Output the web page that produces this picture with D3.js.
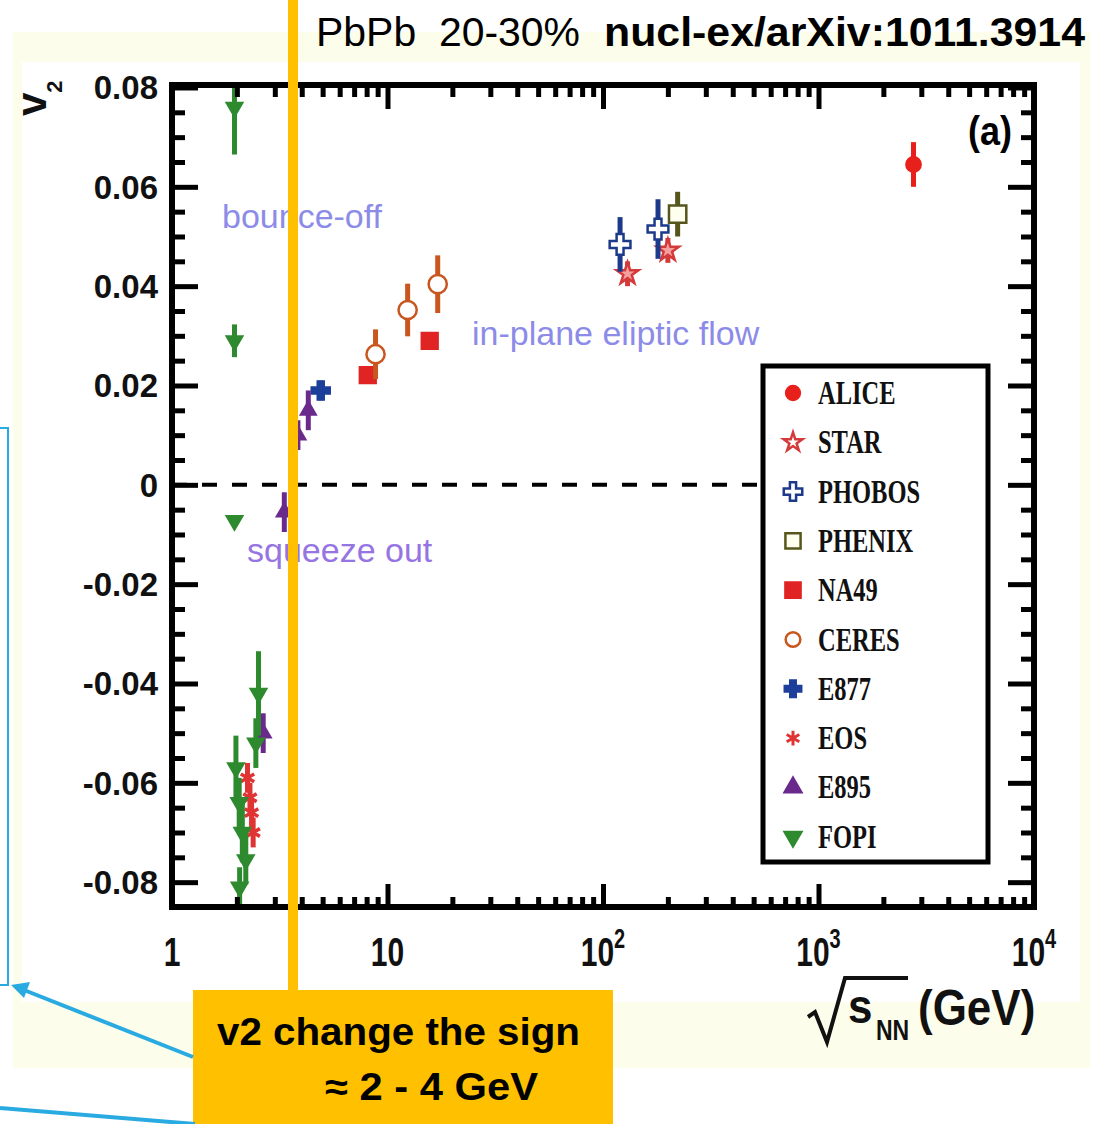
<!DOCTYPE html>
<html>
<head>
<meta charset="utf-8">
<script src="https://cdn.jsdelivr.net/npm/d3@7"></script>
<style>
  body { margin: 0; background: #fff; }
  svg { display: block; }
</style>
</head>
<body>
<svg id="chart" width="1117" height="1124"></svg>
<script>
// v2 vs sqrt(sNN): each point is [sqrt(sNN) GeV, v2, error]
const alice  = [[2760, 0.0645, 0.0045]];
const star   = [[130, 0.0425, 0.0025], [200, 0.0472, 0.0025]];
const phobos = [[120, 0.0484, 0.0055], [180, 0.0515, 0.006]];
const phenix = [[222, 0.0545, 0.0045]];
const na49   = [[8.1, 0.0221, 0.001], [15.7, 0.029, 0.001]];
const ceres  = [[8.8, 0.0263, 0.005], [12.4, 0.0352, 0.0053], [17.1, 0.0404, 0.0058]];
const e877   = [[4.9, 0.019, 0.002]];
const eos    = [[2.24, -0.059, 0.003], [2.3, -0.063, 0.003], [2.34, -0.066, 0.003], [2.38, -0.07, 0.003]];
const e895   = [[2.65, -0.05, 0.004], [3.32, -0.0055, 0.004], [3.84, 0.01, 0.003], [4.29, 0.015, 0.004]];
const fopi   = [[1.95, 0.076, 0.0095], [1.95, 0.029, 0.0033], [1.95, -0.0072, 0.001],
                [1.98, -0.057, 0.0065], [2.05, -0.064, 0.005], [2.12, -0.07, 0.006],
                [2.2, -0.0755, 0.005], [2.06, -0.081, 0.004], [2.45, -0.052, 0.005], [2.52, -0.042, 0.0085]];

const xMajor = [1, 10, 100, 1000, 10000];
const xLabels = [["1", ""], ["10", ""], ["10", "2"], ["10", "3"], ["10", "4"]];
const yMajor = [-0.08, -0.06, -0.04, -0.02, 0, 0.02, 0.04, 0.06, 0.08];
const yLabels = ["-0.08", "-0.06", "-0.04", "-0.02", "0", "0.02", "0.04", "0.06", "0.08"];

const svg = d3.select("#chart");

// echelles
const x = d3.scaleLog().domain([1, 1e4]).range([172, 1034]);
const y = d3.scaleLinear().domain([-0.085, 0.0805]).range([907, 85]);

// fond
svg.append("rect").attr("x", 13).attr("y", 32).attr("width", 1077).attr("height", 1036).attr("fill", "#fdfdec");
svg.append("rect").attr("x", 22).attr("y", 62).attr("width", 1058).attr("height", 940).attr("fill", "#fff");

// textes dans le graphe
const note = (t, px, py, col) => svg.append("text").attr("x", px).attr("y", py)
  .attr("font-family", "Liberation Sans, Arial, sans-serif").attr("font-size", 34)
  .attr("fill", col).text(t);
note("bounce-off", 222, 228, "#8c8ce8");
note("in-plane eliptic flow", 472, 345, "#8c8ce8");
note("squeeze out", 247, 562, "#9674e2");

svg.append("text").attr("x", 968).attr("y", 145).attr("font-family", "Liberation Sans, Arial, sans-serif")
  .attr("font-size", 36).attr("font-weight", "bold").attr("transform", "translate(0,-22) scale(1,1.15)")
  .text("(a)");

// ligne v2 = 0
svg.append("path")
  .attr("d", d3.line().x(d => x(d)).y(() => y(0))([1, 530]))
  .attr("stroke", "#000").attr("stroke-width", 4).attr("stroke-dasharray", "15 15").attr("fill", "none");

// series
const series = [
  { name: "ALICE",  data: alice,  sym: d3.symbolCircle,   size: 160, color: "#e8201c", fill: "#e8201c", lsize: 150 },
  { name: "STAR",   data: star,   sym: d3.symbolStar,     size: 150, color: "#d43a3a", fill: "#f4a0a0", lsize: 110, lfill: "#fff" },
  { name: "PHOBOS", data: phobos, sym: d3.symbolCross,    size: 240, color: "#1d3a8a", fill: "#fff", lsize: 190 },
  { name: "PHENIX", data: phenix, sym: d3.symbolSquare,   size: 300, color: "#56561c", fill: "#fffff0", lsize: 230 },
  { name: "NA49",   data: na49,   sym: d3.symbolSquare,   size: 250, color: "#e02424", fill: "#e02424", lsize: 230 },
  { name: "CERES",  data: ceres,  sym: d3.symbolCircle,   size: 260, color: "#c8561e", fill: "#fff", lsize: 170 },
  { name: "E877",   data: e877,   sym: d3.symbolCross,    size: 180, color: "#1c3f9a", fill: "#1c3f9a", lsize: 150 },
  { name: "EOS",    data: eos,    sym: d3.symbolAsterisk, size: 170, color: "#e03434", fill: "none", lsize: 150 },
  { name: "E895",   data: e895,   sym: d3.symbolTriangle, size: 90,  color: "#6a2a8c", fill: "#6a2a8c", lsize: 120 },
  { name: "FOPI",   data: fopi,   sym: d3.symbolTriangle, size: 100, color: "#2e8a2e", fill: "#2e8a2e", lsize: 120, down: true }
];

const plot = svg.append("g");
series.forEach(s => {
  const g = plot.append("g");
  g.selectAll("line").data(s.data).enter().append("line")
    .attr("x1", d => x(d[0])).attr("x2", d => x(d[0]))
    .attr("y1", d => Math.max(y(d[1] + d[2]), 85)).attr("y2", d => Math.min(y(d[1] - d[2]), 907))
    .attr("stroke", s.color).attr("stroke-width", 5);
  g.selectAll("path").data(s.data).enter().append("path")
    .attr("d", d3.symbol(s.sym, s.size))
    .attr("transform", d => `translate(${x(d[0])},${y(d[1])})` + (s.down ? " rotate(180)" : ""))
    .attr("fill", s.fill).attr("stroke", s.color)
    .attr("stroke-width", s.sym === d3.symbolAsterisk ? 3.5 : 2.5);
});

// axes : graduations vers l'interieur
const xMinor = [];
for (let dec = 1; dec < 1e4; dec *= 10) for (let k = 2; k <= 9; k++) xMinor.push(dec * k);
const yMinor = d3.range(-0.085, 0.0801, 0.005).map(v => +v.toFixed(3)).filter(v => !yMajor.includes(v));

const axes = svg.append("g");
const tickAxis = (axis, vals, len, tr) => {
  const a = axes.append("g").attr("transform", tr)
    .call(axis.tickValues(vals).tickSize(len).tickFormat(""));
  a.select(".domain").remove();
  a.selectAll(".tick line").attr("stroke", "#000").attr("stroke-width", 5);
};
tickAxis(d3.axisBottom(x), xMajor, -23, "translate(0,907)");
tickAxis(d3.axisBottom(x), xMinor, -10, "translate(0,907)");
tickAxis(d3.axisTop(x), xMajor, -24, "translate(0,85)");
tickAxis(d3.axisTop(x), xMinor, -12, "translate(0,85)");
tickAxis(d3.axisLeft(y), yMajor, -26, "translate(172,0)");
tickAxis(d3.axisLeft(y), yMinor, -13, "translate(172,0)");
tickAxis(d3.axisRight(y), yMajor, -26, "translate(1034,0)");
tickAxis(d3.axisRight(y), yMinor, -13, "translate(1034,0)");

axes.append("rect").attr("x", 172).attr("y", 85).attr("width", 862).attr("height", 822)
  .attr("fill", "none").attr("stroke", "#000").attr("stroke-width", 6);

// etiquettes y
axes.selectAll(".ylab").data(yMajor).enter().append("text")
  .attr("x", 158).attr("y", d => y(d) + 12)
  .attr("text-anchor", "end").attr("font-family", "Liberation Sans, Arial, sans-serif")
  .attr("font-size", 33).attr("font-weight", "bold").attr("fill", "#111")
  .text((d, i) => yLabels[i]);

// etiquettes x
const xl = axes.selectAll(".xlab").data(xMajor).enter().append("text")
  .attr("transform", d => `translate(${x(d)},966) scale(1,1.35)`)
  .attr("text-anchor", "middle").attr("font-family", "Liberation Sans, Arial, sans-serif")
  .attr("font-size", 30).attr("font-weight", "bold").attr("fill", "#111");
xl.append("tspan").text((d, i) => xLabels[i][0]);
xl.append("tspan").attr("dy", -13).attr("font-size", 20).text((d, i) => xLabels[i][1]);

// titre axe x
axes.append("path").attr("d", "M808,1017 L815,1012 L827,1042 L845,978 L908,978")
  .attr("fill", "none").attr("stroke", "#111").attr("stroke-width", 4);
axes.append("text").attr("transform", "translate(848,1023) scale(1,1.1)")
  .attr("font-family", "Liberation Sans, Arial, sans-serif").attr("font-size", 44).attr("font-weight", "bold")
  .attr("fill", "#111").text("s");
axes.append("text").attr("transform", "translate(876,1040) scale(1,1.3)")
  .attr("font-family", "Liberation Sans, Arial, sans-serif").attr("font-size", 23).attr("font-weight", "bold")
  .attr("fill", "#111").text("NN");
axes.append("text").attr("transform", "translate(918,1025) scale(1,1.12)")
  .attr("font-family", "Liberation Sans, Arial, sans-serif").attr("font-size", 44).attr("font-weight", "bold")
  .attr("fill", "#111").text("(GeV)");

// titre axe y
const yt = axes.append("text").attr("transform", "translate(46,116) rotate(-90)")
  .attr("font-family", "Liberation Sans, Arial, sans-serif").attr("font-weight", "bold").attr("fill", "#111");
yt.append("tspan").attr("font-size", 42).text("v");
yt.append("tspan").attr("font-size", 22).attr("dy", 16).text("2");

// legende
const leg = svg.append("g");
leg.append("rect").attr("x", 763).attr("y", 366).attr("width", 225).attr("height", 496)
  .attr("fill", "#fff").attr("stroke", "#000").attr("stroke-width", 5);
const row = leg.selectAll(".row").data(series).enter().append("g")
  .attr("transform", (d, i) => `translate(793,${393 + i * 49.3})`);
row.append("path")
  .attr("d", d => d3.symbol(d.sym, d.lsize)())
  .attr("transform", d => d.down ? "rotate(180)" : "")
  .attr("fill", d => d.lfill || d.fill).attr("stroke", d => d.color)
  .attr("stroke-width", d => d.sym === d3.symbolAsterisk ? 3 : 2.5);
row.append("text").attr("transform", "translate(25,11) scale(1,1.35)")
  .attr("font-family", "Liberation Serif, Times New Roman, serif").attr("font-size", 24.5)
  .attr("font-weight", "bold").attr("fill", "#111").text(d => d.name);

// titre en haut
svg.append("text").attr("x", 316).attr("y", 46).attr("font-family", "Liberation Sans, Arial, sans-serif")
  .attr("font-size", 40).attr("textLength", 264).attr("lengthAdjust", "spacingAndGlyphs")
  .style("white-space", "pre").text("PbPb  20-30%");
svg.append("text").attr("x", 604).attr("y", 46).attr("font-family", "Liberation Sans, Arial, sans-serif")
  .attr("font-size", 40).attr("font-weight", "bold").attr("textLength", 481)
  .attr("lengthAdjust", "spacingAndGlyphs").text("nucl-ex/arXiv:1011.3914");

// annotations
const orange = "#ffc000", cyan = "#29abe2";
svg.append("rect").attr("x", 288).attr("y", 0).attr("width", 10).attr("height", 992).attr("fill", orange);
svg.append("rect").attr("x", 193).attr("y", 990).attr("width", 420).attr("height", 134).attr("fill", orange);
svg.append("text").attr("x", 217).attr("y", 1045).attr("font-family", "Liberation Sans, Arial, sans-serif")
  .attr("font-size", 38).attr("font-weight", "bold").attr("textLength", 363)
  .attr("lengthAdjust", "spacingAndGlyphs").text("v2 change the sign");
svg.append("text").attr("x", 325).attr("y", 1100).attr("font-family", "Liberation Sans, Arial, sans-serif")
  .attr("font-size", 38).attr("font-weight", "bold").attr("textLength", 213)
  .attr("lengthAdjust", "spacingAndGlyphs").text("≈ 2 - 4 GeV");

svg.append("path").attr("d", "M-5,428 L8,428 L8,985 L-5,985").attr("fill", "none")
  .attr("stroke", cyan).attr("stroke-width", 2);
svg.append("line").attr("x1", 193).attr("y1", 1057).attr("x2", 24).attr("y2", 990)
  .attr("stroke", cyan).attr("stroke-width", 4);
svg.append("path").attr("d", "M11,985 L30,982 L24,998 Z").attr("fill", cyan);
svg.append("line").attr("x1", 0).attr("y1", 1108).attr("x2", 195).attr("y2", 1124)
  .attr("stroke", cyan).attr("stroke-width", 4);
</script>
</body>
</html>
